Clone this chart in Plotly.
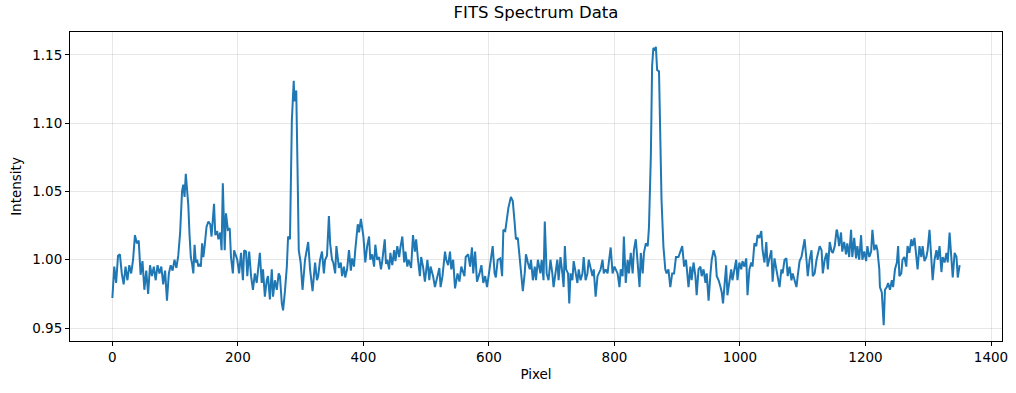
import plotly.graph_objects as go

pixel = [
    0, 3, 6, 9, 12, 15, 18, 21, 24, 27, 30, 33, 36, 39, 42, 45, 48, 51, 54, 57,
    60, 63, 66, 69, 72, 75, 78, 81, 84, 87, 90, 93, 96, 99, 102, 105, 108, 111, 113, 115,
    117, 119, 121, 123, 125, 127, 129, 131, 133, 135, 137, 139, 141, 143, 145, 147, 150, 153, 156, 158,
    162, 164, 167, 169, 172, 174, 176, 179, 181, 184, 187, 189, 192, 194, 197, 199, 202, 205, 208, 210,
    213, 215, 218, 221, 224, 227, 230, 235, 238, 240, 243, 246, 248, 251, 254, 256, 259, 262, 265, 267,
    270, 272, 275, 278, 280, 283, 286, 289, 290, 293, 295, 297, 300, 303, 307, 310, 312, 315, 319, 323,
    326, 328, 331, 334, 337, 339, 342, 345, 347, 350, 352, 355, 357, 361, 364, 366, 369, 371, 374, 377,
    380, 382, 385, 387, 391, 393, 396, 400, 403, 406, 409, 411, 414, 417, 419, 422, 425, 428, 430, 434,
    436, 438, 441, 443, 446, 449, 451, 454, 457, 459, 462, 465, 467, 470, 472, 476, 479, 482, 484, 487,
    490, 492, 495, 498, 502, 505, 507, 511, 514, 518, 521, 523, 526, 530, 532, 535, 538, 540, 543, 546,
    550, 553, 556, 561, 563, 567, 570, 573, 575, 578, 581, 585, 588, 591, 594, 597, 601, 603, 606, 609,
    611, 614, 618, 621, 623, 626, 628, 631, 635, 638, 641, 643, 646, 649, 651, 654, 657, 659, 662, 665,
    667, 670, 673, 675, 678, 682, 684, 687, 689, 692, 695, 698, 701, 703, 706, 709, 711, 714, 717, 719,
    721, 723, 726, 728, 730, 733, 735, 738, 741, 743, 746, 749, 751, 754, 757, 759, 762, 765, 767, 770,
    773, 775, 778, 781, 783, 786, 789, 791, 794, 797, 800, 802, 805, 808, 810, 813, 815, 818, 821, 823,
    826, 829, 831, 834, 837, 840, 842, 845, 847, 850, 853, 855, 858, 860, 862, 865, 866, 868, 871, 873,
    875, 878, 881, 883, 886, 889, 892, 895, 898, 902, 905, 908, 911, 914, 916, 918, 921, 923, 926, 929,
    931, 934, 937, 939, 942, 945, 947, 950, 953, 955, 958, 961, 963, 966, 969, 971, 973, 975, 978, 980,
    983, 986, 988, 991, 994, 996, 999, 1002, 1004, 1007, 1010, 1012, 1015, 1018, 1020, 1023, 1026, 1028, 1031, 1034,
    1036, 1039, 1042, 1044, 1047, 1050, 1052, 1055, 1058, 1060, 1063, 1066, 1068, 1071, 1074, 1076, 1079, 1082, 1084, 1087,
    1090, 1092, 1095, 1098, 1100, 1103, 1106, 1108, 1111, 1114, 1116, 1119, 1122, 1124, 1127, 1130, 1132, 1135, 1138, 1140,
    1143, 1146, 1148, 1151, 1154, 1155, 1158, 1161, 1163, 1166, 1169, 1171, 1174, 1177, 1179, 1182, 1185, 1187, 1190, 1193,
    1195, 1198, 1201, 1203, 1206, 1209, 1211, 1214, 1217, 1219, 1222, 1223, 1226, 1227, 1229, 1231, 1234, 1236, 1239, 1242,
    1244, 1247, 1250, 1252, 1254, 1257, 1259, 1262, 1265, 1267, 1270, 1273, 1275, 1278, 1281, 1283, 1286, 1289, 1291, 1294,
    1297, 1299, 1302, 1305, 1307, 1310, 1313, 1315, 1318, 1321, 1323, 1326, 1329, 1331, 1334, 1337, 1339, 1342, 1345, 1347,
    1350,
]

intensity = [
    0.972, 0.995, 0.983, 1.003, 1.004, 0.990, 0.982, 0.995, 0.985, 0.996, 0.990, 1.000, 1.018, 1.012, 1.014, 0.989, 0.999, 0.978, 0.992, 0.975,
    0.996, 0.988, 0.995, 0.985, 0.996, 0.990, 0.995, 0.982, 0.992, 0.970, 0.990, 0.996, 0.992, 1.000, 0.994, 1.003, 1.020, 1.050, 1.055, 1.046,
    1.063, 1.052, 1.040, 1.018, 1.002, 0.997, 0.990, 1.011, 0.998, 1.000, 0.995, 0.997, 0.995, 1.012, 1.002, 1.010, 1.024, 1.028, 1.026, 1.017,
    1.041, 1.018, 1.021, 1.015, 1.020, 1.007, 1.056, 1.007, 1.034, 1.022, 1.023, 1.002, 0.990, 1.007, 1.002, 1.000, 0.990, 1.005, 0.985, 1.007,
    1.006, 0.988, 1.006, 0.988, 0.978, 0.990, 0.983, 1.005, 0.983, 0.993, 0.973, 0.985, 0.988, 0.971, 0.993, 0.973, 0.985, 0.978, 0.990, 0.988,
    0.968, 0.963, 0.977, 0.995, 1.017, 1.015, 1.102, 1.131, 1.116, 1.124, 1.068, 1.007, 0.998, 0.978, 1.000, 1.008, 1.013, 0.993, 0.977, 0.998,
    0.985, 0.988, 1.000, 1.006, 0.990, 1.000, 1.003, 1.032, 1.012, 1.000, 0.998, 0.990, 1.010, 0.994, 0.998, 0.988, 0.995, 0.987, 0.993, 1.007,
    0.992, 1.001, 0.995, 1.007, 1.026, 1.020, 1.030, 1.017, 0.998, 1.010, 1.017, 1.000, 1.004, 0.995, 1.011, 1.000, 1.002, 0.993, 0.999, 1.015,
    0.997, 1.000, 0.993, 1.005, 0.996, 1.007, 0.999, 1.010, 1.002, 1.009, 1.017, 0.998, 1.006, 0.995, 1.000, 0.994, 1.018, 1.006, 1.015, 1.000,
    0.988, 1.002, 0.995, 0.984, 1.000, 0.985, 0.995, 0.988, 0.980, 0.988, 0.994, 0.980, 0.988, 1.006, 1.000, 0.996, 1.006, 0.993, 1.000, 0.979,
    0.990, 0.984, 0.995, 0.988, 1.002, 1.004, 0.995, 1.009, 0.990, 1.006, 0.984, 0.990, 0.996, 0.983, 0.988, 0.980, 0.993, 1.000, 1.010, 0.990,
    0.987, 1.000, 1.001, 0.988, 1.022, 1.021, 1.027, 1.038, 1.046, 1.043, 1.027, 1.015, 1.016, 1.000, 0.993, 0.977, 0.990, 1.004, 0.998, 0.993,
    1.000, 0.985, 0.995, 0.985, 1.000, 0.990, 1.000, 0.985, 1.028, 0.990, 0.985, 1.000, 0.990, 0.980, 0.990, 1.000, 0.985, 1.002, 0.990, 0.980,
    1.010, 0.993, 0.990, 0.968, 0.990, 0.985, 0.999, 0.990, 0.983, 0.993, 0.985, 0.990, 1.002, 0.985, 0.990, 1.000, 0.993, 0.988, 0.993, 0.973,
    0.988, 0.990, 0.993, 1.000, 0.990, 0.993, 0.990, 0.998, 1.009, 0.990, 0.995, 0.993, 0.990, 0.980, 0.993, 0.988, 1.017, 0.983, 1.000, 0.990,
    1.005, 0.990, 1.007, 1.015, 0.995, 0.980, 1.005, 0.990, 1.005, 1.012, 1.010, 1.024, 1.076, 1.142, 1.155, 1.154, 1.156, 1.139, 1.138, 1.093,
    1.044, 1.010, 0.993, 0.990, 0.993, 0.980, 0.990, 0.990, 1.002, 1.002, 1.006, 1.010, 0.995, 1.000, 0.990, 0.980, 0.995, 0.985, 0.998, 0.988,
    0.974, 0.993, 0.995, 0.988, 0.993, 0.983, 0.990, 0.970, 0.990, 1.000, 1.007, 1.002, 0.988, 0.985, 0.980, 0.976, 0.968, 0.978, 0.996, 0.974,
    0.985, 0.993, 0.985, 0.994, 1.000, 0.985, 0.998, 0.993, 0.999, 0.995, 1.001, 0.974, 0.993, 0.998, 0.995, 1.012, 1.010, 1.018, 1.016, 1.021,
    1.007, 0.998, 1.013, 0.995, 1.001, 1.007, 0.984, 1.001, 0.993, 0.988, 0.980, 0.993, 0.990, 1.000, 1.001, 0.988, 0.995, 0.985, 0.990, 0.985,
    0.980, 0.988, 0.999, 1.002, 1.007, 1.015, 1.000, 0.988, 1.000, 1.007, 0.988, 0.990, 1.000, 1.004, 1.010, 1.007, 0.990, 1.000, 1.005, 0.993,
    1.013, 1.006, 1.005, 1.010, 1.022, 1.021, 1.010, 1.020, 1.006, 1.013, 1.004, 1.012, 1.002, 1.022, 1.002, 1.016, 1.001, 1.010, 1.000, 1.018,
    1.000, 1.006, 0.999, 1.010, 1.002, 1.006, 1.022, 1.007, 1.011, 1.007, 0.993, 0.980, 0.976, 0.968, 0.952, 0.978, 0.980, 0.983, 0.978, 0.985,
    0.980, 0.993, 0.998, 1.010, 0.988, 0.990, 1.000, 1.002, 0.995, 1.010, 1.005, 1.015, 1.010, 1.016, 1.000, 0.993, 1.010, 1.002, 1.010, 0.999,
    1.002, 1.007, 1.022, 1.000, 0.985, 1.000, 1.007, 1.000, 1.010, 0.991, 1.002, 0.998, 1.005, 0.998, 1.020, 1.000, 0.987, 1.005, 1.002, 0.987,
    0.996,
]

title = "FITS Spectrum Data"
x_label = "Pixel"
y_label = "Intensity"

FONT = "DejaVu Sans"

fig = go.Figure(
    go.Scatter(
        x=pixel,
        y=intensity,
        mode="lines",
        line=dict(color="#1f77b4", width=2),
        hoverinfo="x+y",
    )
)

axis_common = dict(
    showline=True,
    linecolor="black",
    linewidth=1,
    mirror=True,
    ticks="outside",
    ticklen=4,
    tickcolor="black",
    tickwidth=1,
    showgrid=True,
    gridcolor="rgba(176,176,176,0.3)",
    gridwidth=1,
    zeroline=False,
    automargin=False,
    tickfont=dict(family=FONT, size=13.5, color="black"),
)

fig.update_layout(
    width=1016,
    height=393,
    paper_bgcolor="white",
    plot_bgcolor="white",
    margin=dict(l=70, r=14, t=32, b=52, pad=0),
    showlegend=False,
    title=dict(
        text=title,
        x=0.5 * (70 + 1002) / 1016,
        xanchor="center",
        y=1 - 12 / 393,
        yanchor="middle",
        font=dict(family=FONT, size=16.5, color="black"),
    ),
    xaxis=dict(
        range=[-67.5, 1417.5],
        tickmode="linear",
        tick0=0,
        dtick=200,
        title=dict(text=x_label, font=dict(family=FONT, size=13.5, color="black"), standoff=5),
        **axis_common,
    ),
    yaxis=dict(
        range=[0.9405, 1.1668],
        tickmode="linear",
        tick0=0.95,
        dtick=0.05,
        tickformat=".2f",
        title=dict(text=y_label, font=dict(family=FONT, size=13.5, color="black"), standoff=7),
        **axis_common,
    ),
)

fig.write_html(
    "out.html",
    config={"displayModeBar": False},
    post_script="document.body.style.margin='0';document.body.style.padding='0';",
)
